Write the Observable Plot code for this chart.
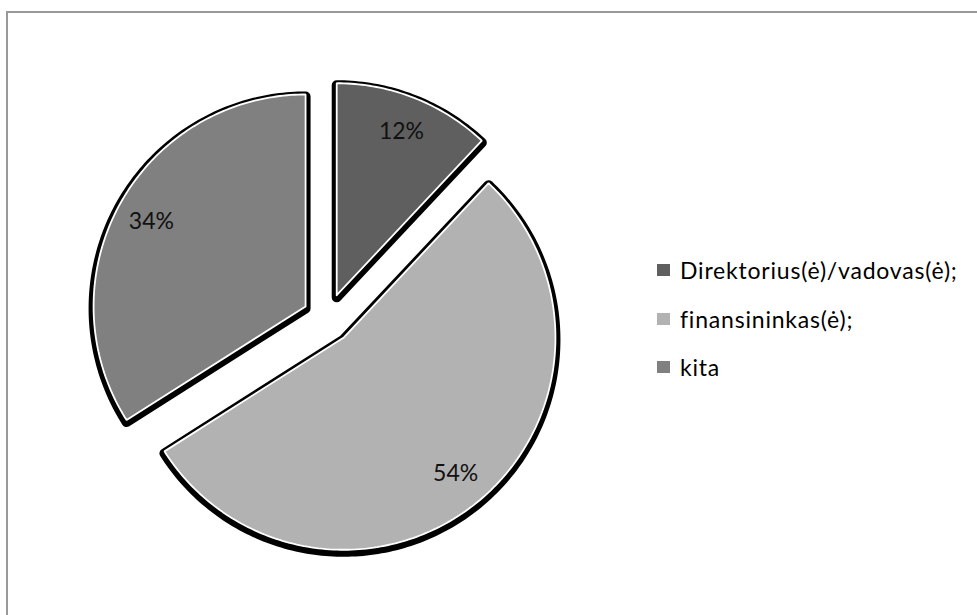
<!DOCTYPE html>
<html><head><meta charset="utf-8">
<script src="https://cdn.jsdelivr.net/npm/d3@7"></script>
<script src="https://cdn.jsdelivr.net/npm/@observablehq/plot@0.6"></script>
<style>
body{margin:0;background:#fff;overflow:hidden}
#wrap{position:relative;width:977px;height:615px;overflow:hidden;background:#fff}
#frame{position:absolute;left:6px;top:11px;width:1000px;height:700px;border:2px solid #999;box-sizing:border-box}
#chart{position:absolute;left:0;top:0}
#legend{position:absolute;left:657px;top:246px;font-family:Lato,"Open Sans",sans-serif;font-size:23px;letter-spacing:0.8px;color:#000}
.item{display:flex;align-items:center;height:48.5px;white-space:nowrap}
.sw{width:13px;height:12px;margin-right:10px;flex:none}
</style>
</head><body>
<div id="wrap"><div id="frame"></div><div id="chart"></div><div id="legend"></div></div>
<script>
const categories = ["Direktorius(ė)/vadovas(ė);", "finansininkas(ė);", "kita"];
const values = [12, 54, 34];
const labels = ["12%", "54%", "34%"];
const colors = ["#5f5f5f", "#b2b2b2", "#808080"];

const W = 977, H = 615, R = 212, CX = 327, CY = 318;
const explode = 0.118, labelR = 0.83;

const arcs = d3.pie().sort(null).value(d => d)(values);

function slicePoints(a) {
  const mid = (a.startAngle + a.endAngle) / 2;
  const ox = explode * Math.sin(mid), oy = explode * Math.cos(mid);
  const pts = [{x: ox, y: oy}];
  const n = Math.max(2, Math.ceil((a.endAngle - a.startAngle) / (Math.PI / 180)));
  for (let k = 0; k <= n; k++) {
    const t = a.startAngle + (a.endAngle - a.startAngle) * k / n;
    pts.push({x: ox + Math.sin(t), y: oy + Math.cos(t)});
  }
  pts.push({x: ox, y: oy});
  return pts;
}

const slices = arcs.map(slicePoints);
const labelData = arcs.map((a, i) => {
  const mid = (a.startAngle + a.endAngle) / 2;
  const r = explode + labelR;
  return {x: r * Math.sin(mid), y: r * Math.cos(mid), text: labels[i]};
});

const marks = [];
slices.forEach(pts => marks.push(Plot.line(pts, {x: "x", y: "y", fill: "#000", stroke: "#000", strokeWidth: 10, strokeLinejoin: "round", dy: 2})));
slices.forEach((pts, i) => marks.push(Plot.line(pts, {x: "x", y: "y", fill: colors[i], stroke: "#fff", strokeWidth: 1.8, strokeLinejoin: "miter"})));
marks.push(Plot.text(labelData, {x: "x", y: "y", text: "text", fontSize: 23, fill: "#111", fontFamily: "Lato, 'Open Sans', sans-serif"}));

const chart = Plot.plot({
  width: W, height: H, margin: 0,
  x: {domain: [-1, 1], range: [CX - R, CX + R], axis: null},
  y: {domain: [-1, 1], range: [CY + R, CY - R], axis: null},
  style: {background: "transparent", overflow: "visible"},
  marks
});
document.getElementById("chart").appendChild(chart);

const legend = document.getElementById("legend");
categories.forEach((c, i) => {
  const item = document.createElement("div");
  item.className = "item";
  const sw = document.createElement("span");
  sw.className = "sw";
  sw.style.background = colors[i];
  const tx = document.createElement("span");
  tx.textContent = c;
  item.appendChild(sw); item.appendChild(tx);
  legend.appendChild(item);
});
</script>
</body></html>
